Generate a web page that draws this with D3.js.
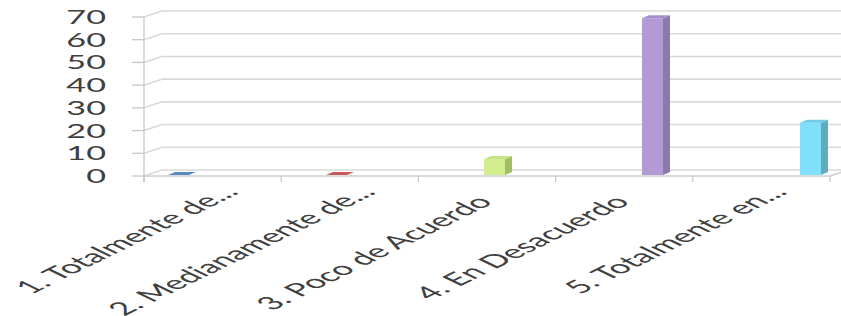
<!DOCTYPE html>
<html lang="es">
<head>
<meta charset="UTF-8">
<title>Grado de acuerdo</title>
<style>
  html, body { margin: 0; padding: 0; background: #fff; }
  svg { display: block; font-family: Lato, "Open Sans", sans-serif; }
</style>
</head>
<body>
<div id="chart"></div>
<script src="https://d3js.org/d3.v7.min.js"></script>
<script>
const categories = ["1. Totalmente de...", "2. Medianamente de...", "3. Poco de Acuerdo", "4. En Desacuerdo", "5. Totalmente en..."];
const values = [0, 0, 7, 69, 23];
const yTicks = [0, 10, 20, 30, 40, 50, 60, 70];
const fronts = ["#5a8ac6", "#c65a56", "#d2ed8e", "#b39ad5", "#80e0fb"];
const sides = ["#4a72a6", "#a44744", "#a3be6a", "#8c79ab", "#62aabe"];
const tops = ["#6a98d2", "#d26a66", "#c6e386", "#a58fc9", "#70cce6"];

const W = 841, H = 316;
const depthX = 18, depthY = 6;      // wall depth
const barW = 21, barDX = 7, barDY = 3;
const grid = "#d9d9d9";

const svg = d3.select("#chart").append("svg").attr("width", W).attr("height", H);

const y = d3.scaleLinear().domain([0, 70]).range([176, 17]);
const x = d3.scaleBand().domain(categories).range([144, 830]);
const xb = d3.scalePoint().domain(categories).range([168, 800]);

// gridlines: back wall + left wall slant
const g = svg.append("g");
yTicks.forEach(t => {
  g.append("line").attr("x1", 144 + depthX).attr("x2", W + 10)
    .attr("y1", y(t) - depthY).attr("y2", y(t) - depthY)
    .attr("stroke", grid).attr("stroke-width", 1.6);
  g.append("line").attr("x1", 144).attr("x2", 144 + depthX)
    .attr("y1", y(t)).attr("y2", y(t) - depthY)
    .attr("stroke", grid).attr("stroke-width", 1.6);
  g.append("line").attr("x1", 132).attr("x2", 144)
    .attr("y1", y(t)).attr("y2", y(t))
    .attr("stroke", "#c8c8c8").attr("stroke-width", 1.3);
});

// floor front edge + right slant
g.append("line").attr("x1", 144).attr("x2", 830).attr("y1", y(0)).attr("y2", y(0))
  .attr("stroke", "#cfcfcf").attr("stroke-width", 1.6);
g.append("line").attr("x1", 830).attr("x2", 830 + depthX).attr("y1", y(0)).attr("y2", y(0) - depthY)
  .attr("stroke", "#cfcfcf").attr("stroke-width", 1.6);
// vertical axis
g.append("line").attr("x1", 144).attr("x2", 144).attr("y1", y(70)).attr("y2", y(0) + 6)
  .attr("stroke", "#c8c8c8").attr("stroke-width", 1.3);
// category ticks
[...categories.map(c => x(c)), 830].forEach(px => {
  g.append("line").attr("x1", px).attr("x2", px).attr("y1", y(0)).attr("y2", y(0) + 6)
    .attr("stroke", "#c8c8c8").attr("stroke-width", 1.3);
});

// y labels
svg.append("g").selectAll("text").data(yTicks).join("text")
  .attr("transform", d => `translate(106,${y(d) + 7}) scale(1.8,1)`)
  .attr("text-anchor", "end")
  .attr("font-size", 19)
  .attr("fill", "#404040")
  .text(d => d);

// bars
const bars = svg.append("g").selectAll("g").data(categories).join("g");
const by = v => y(v) - 1;
bars.each(function(c, i) {
  const v = values[i];
  const b = d3.select(this);
  const x0 = xb(c), y0 = by(0), y1 = by(v);
  if (v > 0) {
    b.append("rect").attr("x", x0).attr("y", y1).attr("width", barW).attr("height", y0 - y1)
      .attr("fill", fronts[i]);
    b.append("polygon").attr("points", [[x0 + barW, y1], [x0 + barW + barDX, y1 - barDY], [x0 + barW + barDX, y0 - barDY], [x0 + barW, y0]].join(" "))
      .attr("fill", sides[i]);
  }
  b.append("polygon").attr("points", [[x0, y1], [x0 + barDX, y1 - barDY], [x0 + barW + barDX, y1 - barDY], [x0 + barW, y1]].join(" "))
    .attr("fill", v > 0 ? tops[i] : fronts[i]);
});

// category labels
svg.append("g").selectAll("text").data(categories).join("text")
  .attr("transform", d => `translate(${x(d) + x.bandwidth() / 2 + 7},203) scale(2.05,1) rotate(-45)`)
  .attr("text-anchor", "end")
  .attr("dx", d => d.endsWith("...") ? 14 : 0)
  .attr("font-size", 18)
  .attr("fill", "#404040")
  .text(d => d);
</script>
</body>
</html>
